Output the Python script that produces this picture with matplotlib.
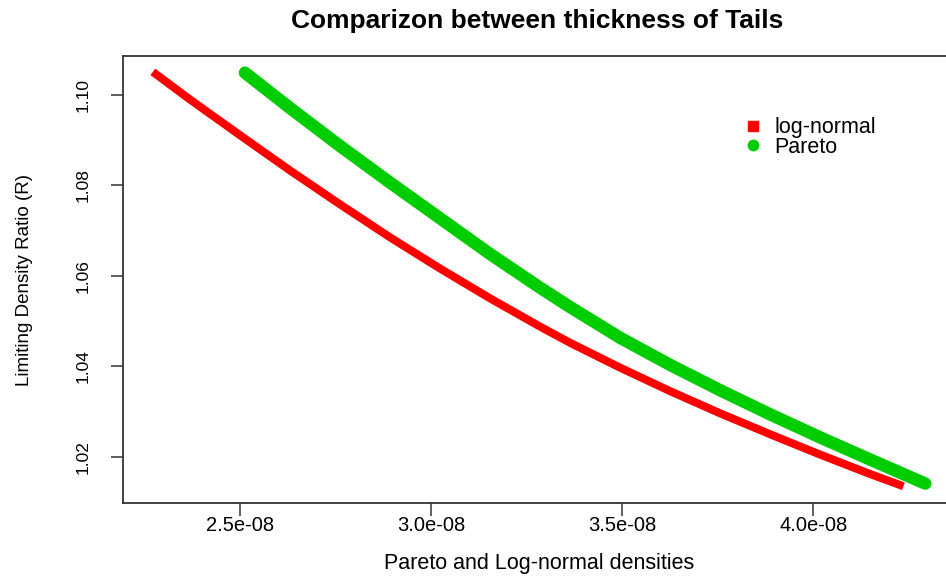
import matplotlib
matplotlib.use("Agg")
import matplotlib.pyplot as plt
from matplotlib.lines import Line2D

# Densities (x, in units of 1e-8) and limiting density ratio R
lognormal_x = [2.272, 2.369, 2.500, 2.631, 2.762, 2.893, 3.024, 3.155, 3.285,
               3.364, 3.495, 3.626, 3.757, 3.887, 4.018, 4.149, 4.236]
lognormal_r = [1.1051, 1.0990, 1.0911, 1.0833, 1.0758, 1.0685, 1.0616, 1.0550,
               1.0488, 1.0452, 1.0397, 1.0345, 1.0296, 1.0250, 1.0205, 1.0162,
               1.0135]

pareto_x = [2.513, 2.631, 2.762, 2.893, 3.024, 3.155, 3.285, 3.364, 3.495,
            3.626, 3.757, 3.887, 4.018, 4.149, 4.293]
pareto_r = [1.1049, 1.0971, 1.0887, 1.0806, 1.0727, 1.0648, 1.0574, 1.0531,
            1.0463, 1.0403, 1.0347, 1.0294, 1.0243, 1.0194, 1.0141]

x_ticks = [2.5e-8, 3.0e-8, 3.5e-8, 4.0e-8]
x_tick_labels = ["2.5e-08", "3.0e-08", "3.5e-08", "4.0e-08"]
y_ticks = [1.02, 1.04, 1.06, 1.08, 1.10]
y_tick_labels = ["1.02", "1.04", "1.06", "1.08", "1.10"]

RED = "#FF0000"
GREEN = "#00CD00"

plt.rcParams["font.family"] = ["Liberation Sans", "DejaVu Sans"]

fig = plt.figure(figsize=(9.46, 5.76), dpi=100)
ax = fig.add_axes([0.130, 0.1267, 0.880, 0.7761])

# log-normal first, Pareto drawn over it
ax.plot([v * 1e-8 for v in lognormal_x], lognormal_r, color=RED, lw=5.8,
        solid_capstyle="butt", solid_joinstyle="round")
ax.plot([v * 1e-8 for v in pareto_x], pareto_r, color=GREEN, lw=9.0,
        solid_capstyle="round", solid_joinstyle="round")

ax.set_xlim(2.194e-8, 4.372e-8)
ax.set_ylim(1.0098, 1.1086)

ax.set_xticks(x_ticks)
ax.set_xticklabels(x_tick_labels, fontsize=14.5)
ax.set_yticks(y_ticks)
ax.set_yticklabels(y_tick_labels, fontsize=12.5, rotation=90, va="center")

ax.tick_params(axis="both", direction="out", length=9, width=1.1, color="#333333")
ax.tick_params(axis="x", pad=0)
ax.tick_params(axis="y", pad=14)

for s in ax.spines.values():
    s.set_linewidth(1.3)
    s.set_color("#333333")

ax.set_xlabel("Pareto and Log-normal densities", fontsize=15.5, labelpad=13)
ax.set_ylabel("Limiting Density Ratio (R)", fontsize=13.5, labelpad=31)
fig.text(0.568, 0.963, "Comparizon between thickness of Tails", ha="center",
         va="center", fontsize=19, fontweight="bold")

handles = [
    Line2D([], [], ls="none", marker="s", ms=6.5, color=RED),
    Line2D([], [], ls="none", marker="o", ms=7.5, color=GREEN),
]
ax.legend(handles, ["log-normal", "Pareto"], loc="upper left",
          bbox_to_anchor=(0.733, 0.882), frameon=False, fontsize=15.5,
          handlelength=1.0, handletextpad=0.5, labelspacing=-0.08,
          borderaxespad=0.0)

fig.savefig("out.png", dpi=100)
